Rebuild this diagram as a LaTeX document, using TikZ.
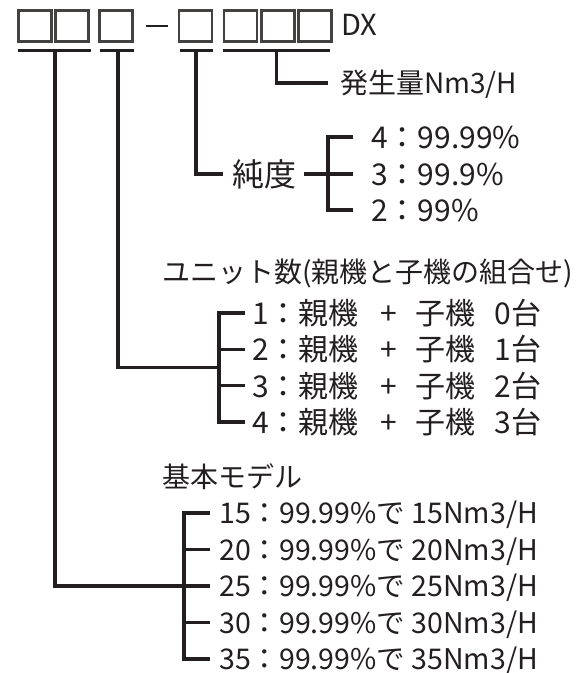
\documentclass[tikz,border=0pt]{standalone}
\usepackage{fontspec}
\usepackage{tikz}
\newfontfamily\jp{Noto Sans CJK JP}
\definecolor{ink}{HTML}{231F20}

\begin{document}
\begin{tikzpicture}[x=1pt, y=-1pt, ink,
	box/.style={draw=ink!85, line width=2.6pt, minimum width=33pt, minimum height=31.5pt, inner sep=0pt},
	wire/.style={line width=3.1pt},
	lbl/.style={anchor=west, inner sep=0pt, text height=0.88*#1pt, text depth=0.12*#1pt, font=\jp\fontsize{#1pt}{#1pt}\selectfont},
	lbl/.default=28]
	\useasboundingbox (0,0) rectangle (587,673);
	% code boxes
	\node[box] (b1) at (35,26) {};
	\node[box] (b2) at (72,26) {};
	\node[box] (b3) at (116,26) {};
	\draw [line width=2.6pt] (146,26) -- (168,26);
	\node[box] (b4) at (195.5,26) {};
	\node[box] (b5) at (240.5,26) {};
	\node[box] (b6) at (278,26) {};
	\node[box] (b7) at (315,26) {};
	\node[lbl=29] (dx) at (341,24) {DX};
	% underlines
	\draw [wire] (17.7,50.5) -- (90.7,50.5);
	\draw [wire] (100,50.5) -- (134,50.5);
	\draw [wire] (179.5,50.5) -- (213,50.5);
	\draw [wire] (223,50.5) -- (330,50.5);
	% labels
	\node[lbl] (hassei) at (340,83) {発生量Nm3/H};
	\node[lbl=32] (jundo) at (232,174) {純度};
	\node[lbl=30] (p4) at (371,137) {4：99.99\%};
	\node[lbl=30] (p3) at (371,174) {3：99.9\%};
	\node[lbl=30] (p2) at (371,210) {2：99\%};
	\node[lbl] (unit) at (162,272) {ユニット数(親機と子機の組合せ)};
	\node[lbl=30] (u1) at (252,313) {1：親機\hspace{22pt}+\hspace{18pt}子機\hspace{19pt}0台};
	\node[lbl=30] (u2) at (252,349.3) {2：親機\hspace{22pt}+\hspace{18pt}子機\hspace{19pt}1台};
	\node[lbl=30] (u3) at (252,385.7) {3：親機\hspace{22pt}+\hspace{18pt}子機\hspace{19pt}2台};
	\node[lbl=30] (u4) at (252,422) {4：親機\hspace{22pt}+\hspace{18pt}子機\hspace{19pt}3台};
	\node[lbl] (kihon) at (162,477) {基本モデル};
	\node[lbl=28.5] (m15) at (219,513) {15：99.99\%で 15Nm3/H};
	\node[lbl=28.5] (m20) at (219,549.5) {20：99.99\%で 20Nm3/H};
	\node[lbl=28.5] (m25) at (219,586) {25：99.99\%で 25Nm3/H};
	\node[lbl=28.5] (m30) at (219,622.5) {30：99.99\%で 30Nm3/H};
	\node[lbl=28.5] (m35) at (219,659) {35：99.99\%で 35Nm3/H};
	% leaders
	\draw [wire] (276.5,50.5) |- ([xshift=-12pt]hassei.west);
	\draw [wire] (196,50.5) |- ([xshift=-9pt]jundo.west);
	\draw [wire] (304,174) -- ([xshift=-18pt]p3.west);
	\draw [wire] ([xshift=-18pt]p4.west) -- ([xshift=-43pt]p4.west) -- ([xshift=-43pt]p2.west) -- ([xshift=-18pt]p2.west);
	\coordinate (ujoin) at (219,367.5);
	\draw [wire] (118,50.5) |- (ujoin);
	\draw [wire] ([xshift=-7pt]u1.west) -- ([xshift=-33pt]u1.west) -- ([xshift=-33pt]u4.west) -- ([xshift=-7pt]u4.west);
	\draw [wire] ([xshift=-33pt]u2.west) -- ([xshift=-7pt]u2.west);
	\draw [wire] ([xshift=-33pt]u3.west) -- ([xshift=-7pt]u3.west);
	\draw [wire] (55,50.5) |- ([xshift=-35pt]m25.west);
	\draw [wire] ([xshift=-9pt]m15.west) -- ([xshift=-35pt]m15.west) -- ([xshift=-35pt]m35.west) -- ([xshift=-9pt]m35.west);
	\draw [wire] ([xshift=-35pt]m20.west) -- ([xshift=-9pt]m20.west);
	\draw [wire] ([xshift=-35pt]m25.west) -- ([xshift=-9pt]m25.west);
	\draw [wire] ([xshift=-35pt]m30.west) -- ([xshift=-9pt]m30.west);
\end{tikzpicture}
\end{document}
